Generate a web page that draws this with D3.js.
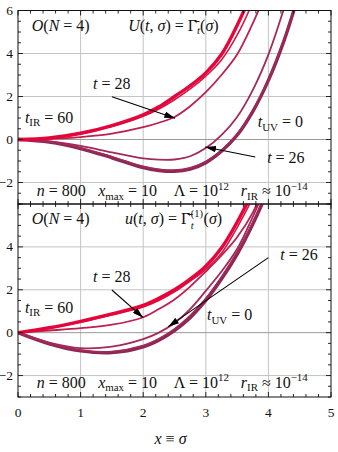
<!DOCTYPE html>
<html>
<head>
<meta charset="utf-8">
<script src="https://cdn.jsdelivr.net/npm/d3@7"></script>
<style>
  body { margin: 0; background: #fff; }
  svg text { font-family: "Liberation Serif", "Times New Roman", serif; white-space: pre; }
</style>
</head>
<body>
<svg id="chart"></svg>
<script>
const width = 338;
const height = 452;

// sample points along sigma
const xs = [0, 0.5, 1, 1.5, 2, 2.25, 2.5, 2.75, 3, 3.25, 3.5, 3.75, 4, 4.25, 4.5];
const times = [0, 20, 26, 28, 30, 60];

// U(t, sigma) curves, upper panel
const potT0  = [0, -0.12, -0.42, -0.85, -1.31, -1.44, -1.48, -1.38, -1.08, -0.55, 0.2, 1.3, 2.75, 4.6, 6.9];
const potT20 = [0, -0.11, -0.40, -0.80, -1.25, -1.38, -1.42, -1.32, -1.02, -0.5, 0.25, 1.35, 2.8, 4.65, 6.95];
const potT26 = [0, -0.09, -0.30, -0.60, -0.88, -0.94, -0.93, -0.78, -0.4, 0.2, 1.05, 2.3, 3.95, 6.1, 8.5];
const potT28 = [0, 0.03, 0.11, 0.27, 0.57, 0.78, 1.05, 1.55, 2.2, 3.0, 3.95, 5.4, 7.1, 8.9, 10.9];
const potT30 = [0, 0.06, 0.26, 0.60, 1.08, 1.42, 1.85, 2.35, 2.95, 3.7, 4.85, 6.4, 8.4, 10.8, 13.5];
const potT60 = [0, 0.07, 0.29, 0.65, 1.15, 1.52, 2.0, 2.5, 3.1, 3.95, 5.3, 7.0, 9.2, 11.8, 14.8];

// u(t, sigma) curves, lower panel
const derT0  = [0, -0.52, -0.85, -0.93, -0.66, -0.35, 0.1, 0.7, 1.5, 2.5, 3.65, 5.05, 6.7, 8.6, 10.7];
const derT20 = [0, -0.50, -0.82, -0.88, -0.60, -0.28, 0.18, 0.8, 1.6, 2.6, 3.75, 5.15, 6.8, 8.7, 10.8];
const derT26 = [0, -0.46, -0.72, -0.65, -0.30, 0.0, 0.45, 1.1, 1.95, 2.85, 3.9, 5.4, 7.1, 9.0, 11.1];
const derT28 = [0, 0.10, 0.21, 0.37, 0.72, 1.1, 1.55, 2.15, 2.85, 3.6, 4.45, 5.6, 7.3, 9.2, 11.3];
const derT30 = [0, 0.21, 0.49, 0.83, 1.20, 1.5, 1.9, 2.4, 2.95, 3.7, 4.9, 6.3, 8.1, 10.2, 12.6];
const derT60 = [0, 0.23, 0.53, 0.88, 1.27, 1.6, 2.0, 2.5, 3.1, 3.95, 5.15, 6.6, 8.5, 10.7, 13.2];

const xTicks = [0, 1, 2, 3, 4, 5];
const yTicks = [-2, 0, 2, 4, 6];

const svg = d3.select("#chart")
    .attr("width", width)
    .attr("height", height)
    .attr("viewBox", [0, 0, width, height]);

const x = d3.scaleLinear().domain([0, 5]).range([18, 331]);

const color = d3.scaleLinear()
    .domain([0, 26, 30, 60])
    .range(["#8c2856", "#a32a58", "#d31848", "#e6053a"]);

const strokeFor = t => (t === 0 || t === 60) ? 3.4 : (t === 20 || t === 30 ? 1.6 : 1.8);

const panels = [
    { top: 10.5, bottom: 204, curves: [potT0, potT20, potT26, potT28, potT30, potT60], showTop: true },
    { top: 204, bottom: 397, curves: [derT0, derT20, derT26, derT28, derT30, derT60], showTop: false }
];

svg.append("defs").append("marker")
    .attr("id", "head")
    .attr("viewBox", "0 0 10 6")
    .attr("refX", 10).attr("refY", 3)
    .attr("markerWidth", 11).attr("markerHeight", 6.5)
    .attr("markerUnits", "userSpaceOnUse")
    .attr("orient", "auto")
    .append("path").attr("d", "M0,0L10,3L0,6Z").attr("fill", "#000");

// writes a small piece of math: parts are [text, kind]
function mathText(g, px, py, parts, size = 16) {
    const text = g.append("text").attr("x", px).attr("y", py).attr("font-size", size).attr("fill", "#111");
    let shift = 0;
    parts.forEach(([s, kind]) => {
        const sp = text.append("tspan").text(s);
        let target = 0;
        if (kind === "sub" || kind === "isub") target = 3.5;
        if (kind === "sup") target = -6.5;
        if (kind === "isub" || kind === "i") sp.attr("font-style", "italic");
        if (kind === "sub" || kind === "isub" || kind === "sup") sp.attr("font-size", size * 0.68);
        if (target !== shift) sp.attr("dy", target - shift);
        shift = target;
    });
    return text;
}

panels.forEach((p, k) => {
    const y = d3.scaleLinear().domain([-3, 6]).range([p.bottom, p.top]);
    const g = svg.append("g");
    const clipId = "clip" + k;
    svg.append("clipPath").attr("id", clipId)
        .append("rect").attr("x", x(0)).attr("y", p.top).attr("width", x(5) - x(0)).attr("height", p.bottom - p.top);

    // grid
    g.append("g").selectAll("line").data([1, 2, 3, 4]).join("line")
        .attr("x1", d => x(d)).attr("x2", d => x(d))
        .attr("y1", p.top).attr("y2", p.bottom)
        .attr("stroke", "#c4c4c4").attr("stroke-width", 1);
    g.append("g").selectAll("line").data([-2, 0, 2, 4]).join("line")
        .attr("x1", x(0)).attr("x2", x(5))
        .attr("y1", d => y(d)).attr("y2", d => y(d))
        .attr("stroke", d => d === 0 ? "#9a9a9a" : "#c4c4c4").attr("stroke-width", 1);

    // curves
    const line = d3.line().x((d, i) => x(xs[i])).y(d => y(d)).curve(d3.curveCatmullRom.alpha(0.5));
    g.append("g").attr("clip-path", `url(#${clipId})`)
        .selectAll("path").data(p.curves).join("path")
        .attr("d", d => line(d))
        .attr("fill", "none")
        .attr("stroke", (d, i) => color(times[i]))
        .attr("stroke-width", (d, i) => strokeFor(times[i]))
        .attr("stroke-linecap", "round");

    // frame and inward ticks
    g.append("rect").attr("x", x(0)).attr("y", p.top).attr("width", x(5) - x(0)).attr("height", p.bottom - p.top)
        .attr("fill", "none").attr("stroke", "#111").attr("stroke-width", 1);
    const minorX = d3.range(0, 5.001, 0.2);
    const minorY = d3.range(-3, 6.001, 0.5);
    const tickG = g.append("g").attr("stroke", "#111").attr("stroke-width", 0.9);
    minorX.forEach(v => {
        const major = Math.abs(v - Math.round(v)) < 1e-6;
        const len = major ? 5 : 3;
        tickG.append("line").attr("x1", x(v)).attr("x2", x(v)).attr("y1", p.bottom).attr("y2", p.bottom - len);
        tickG.append("line").attr("x1", x(v)).attr("x2", x(v)).attr("y1", p.top).attr("y2", p.top + len);
    });
    minorY.forEach(v => {
        const major = Math.abs(v / 2 - Math.round(v / 2)) < 1e-6;
        const len = major ? 5 : 3;
        tickG.append("line").attr("x1", x(0)).attr("x2", x(0) + len).attr("y1", y(v)).attr("y2", y(v));
        tickG.append("line").attr("x1", x(5)).attr("x2", x(5) - len).attr("y1", y(v)).attr("y2", y(v));
    });

    // y tick labels
    g.append("g").selectAll("text").data(yTicks.filter(v => p.showTop || v < 6)).join("text")
        .attr("x", 13).attr("y", d => y(d) + 4.5)
        .attr("text-anchor", "end").attr("font-size", 13.5).attr("fill", "#111")
        .text(d => d < 0 ? "\u2212" + Math.abs(d) : d);

    // annotations
    const ann = g.append("g");
    const put = (dx, dy, parts) => mathText(ann, x(dx), y(dy), parts);
    const arrow = (a, b) => ann.append("line")
        .attr("x1", x(a[0])).attr("y1", y(a[1])).attr("x2", x(b[0])).attr("y2", y(b[1]))
        .attr("stroke", "#000").attr("stroke-width", 1.1).attr("marker-end", "url(#head)");

    put(0.22, 5.05, [["O", "i"], ["(", ""], ["N", "i"], [" = 4)", ""]]);
    if (k === 0) {
        put(1.76, 5.05, [["U", "i"], ["(", ""], ["t", "i"], [", ", ""], ["\u03c3", "i"], [") = ", ""], ["\u0393\u0304", ""], ["t", "isub"], ["(", ""], ["\u03c3", "i"], [")", ""]]);
        put(1.2, 2.35, [["t", "i"], [" = 28", ""]]);
        arrow([1.5, 1.99], [2.51, 0.99]);
        put(0.11, 0.77, [["t", "i"], ["IR", "sub"], [" = 60", ""]]);
        put(3.83, 0.58, [["t", "i"], ["UV", "sub"], [" = 0", ""]]);
        put(3.98, -1.09, [["t", "i"], [" = 26", ""]]);
        arrow([3.79, -0.81], [2.99, -0.35]);
    } else {
        // sub and superscript on Gamma are stacked, so the pieces are placed by measuring
        const head = put(1.71, 5.05, [["u", "i"], ["(", ""], ["t", "i"], [", ", ""], ["\u03c3", "i"], [") = ", ""], ["\u0393\u0304", ""]]);
        const bx = x(1.71) + head.node().getComputedTextLength() + 0.5;
        const sup = mathText(ann, bx, y(5.05) - 7, [["(1)", ""]], 10.5);
        mathText(ann, bx, y(5.05) + 4.5, [["t", "i"]], 10.5);
        const ax = bx + sup.node().getComputedTextLength() + 0.5;
        mathText(ann, ax, y(5.05), [["(", ""], ["\u03c3", "i"], [")", ""]]);
        put(1.2, 2.36, [["t", "i"], [" = 28", ""]]);
        arrow([1.5, 1.99], [2.0, 0.7]);
        put(0.11, 0.92, [["t", "i"], ["IR", "sub"], [" = 60", ""]]);
        put(3.02, 0.59, [["t", "i"], ["UV", "sub"], [" = 0", ""]]);
        put(4.19, 3.39, [["t", "i"], [" = 26", ""]]);
        arrow([4.0, 3.5], [2.4, 0.28]);
    }
    const fy = k === 0 ? -2.63 : -2.58;
    put(0.3, fy, [["n", "i"], [" = 800", ""]]);
    put(1.28, fy, [["x", "i"], ["max", "sub"], [" = 10", ""]]);
    put(2.49, fy, [["\u039b = 10", ""], ["12", "sup"]]);
    put(3.56, fy, [["r", "i"], ["IR", "sub"], [" \u2248 10", ""], ["\u221214", "sup"]]);
});

// x tick labels and title
svg.append("g").selectAll("text").data(xTicks).join("text")
    .attr("x", d => x(d)).attr("y", 417)
    .attr("text-anchor", "middle").attr("font-size", 13.5).attr("fill", "#111")
    .text(d => d);

mathText(svg, x(2.5) - 20, 444, [["x", "i"], [" \u2261 ", ""], ["\u03c3", "i"]]);
</script>
</body>
</html>
